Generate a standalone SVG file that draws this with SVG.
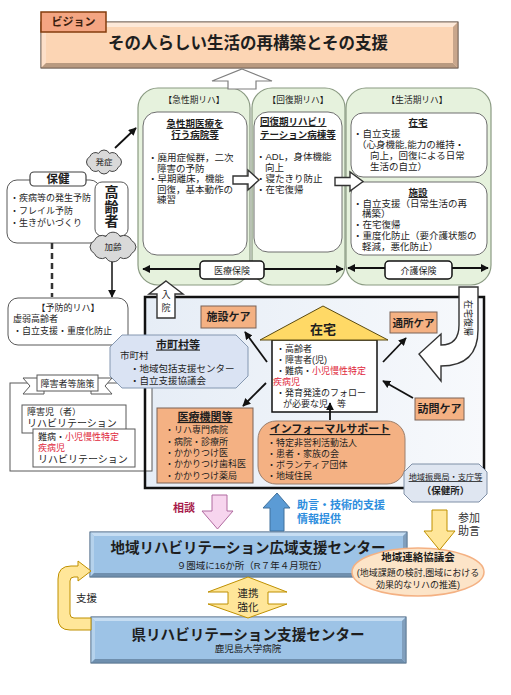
<svg xmlns="http://www.w3.org/2000/svg" width="511" height="695" viewBox="0 0 511 695">
<defs>
<style>
text{font-family:"Liberation Sans","Noto Sans CJK JP",sans-serif;fill:#1e1e1e}
.s8{font-size:8.2px}
.s9{font-size:9px}
.s95{font-size:9.5px}
.s10{font-size:10px}
.s11{font-size:11px}
.b{font-weight:bold}
.u{text-decoration:underline}
.m{text-anchor:middle}
.red{fill:#e0283c}
.wbox{fill:#fff;stroke:#6f6f6f;stroke-width:1}
.green{fill:#e6f2dd;stroke:#8a9a82;stroke-width:1.2}
.orange{fill:#f4b183;stroke:#7a6356;stroke-width:1}
.conn{stroke:#111;stroke-width:1.8;fill:none}
.hollow{fill:#fff;stroke:#333;stroke-width:1.4}
.yel{fill:#ffe699;stroke:#bf9000;stroke-width:1}
.bmain{fill:#9dc3e6;stroke:#5a7691;stroke-width:0.8}
.btop{fill:#c6ddf2}
.bleft{fill:#b5d2ec}
.bbot{fill:#6f8fae}
.bright{fill:#819fbd}
.cloud{fill:#d9d9d9;stroke:#444;stroke-width:1}
.oct{fill:#dae3f3;stroke:#8497b0;stroke-width:1}
</style>
<marker id="ah" viewBox="0 0 10 10" refX="9" refY="5" markerWidth="8" markerHeight="8" markerUnits="userSpaceOnUse" orient="auto-start-reverse">
<path d="M0,0 L10,5 L0,10 z" fill="#111"/>
</marker>
<linearGradient id="gArea" x1="0" y1="0" x2="1" y2="0">
<stop offset="0" stop-color="#e6edf6"/>
<stop offset="1" stop-color="#f7f9fc"/>
</linearGradient>
</defs>
<rect width="511" height="695" fill="#fff"/>

<!-- Vision -->
<g id="vision">
<rect x="41" y="22" width="417" height="46" fill="#fcd5b4" stroke="#6b5a4e" stroke-width="0.8"/>
<polygon points="41,22 458,22 453,27 46,27" fill="#fde9d9"/>
<polygon points="41,22 46,27 46,63 41,68" fill="#fddfc8"/>
<polygon points="41,68 458,68 453,63 46,63" fill="#b99a80"/>
<polygon points="458,22 458,68 453,63 453,27" fill="#c8a68c"/>
<rect x="41" y="22" width="417" height="46" fill="none" stroke="#6b5a4e" stroke-width="0.8"/>
<text x="248" y="49" class="b m" style="font-size:16.5px">その人らしい生活の再構築とその支援</text>
</g>
<g id="vision-label">
<rect x="41" y="12" width="65" height="20" fill="#f4a582" stroke="#843c0c" stroke-width="1.5"/>
<text x="73.5" y="26" class="b m s11" style="fill:#3b1f0f">ビジョン</text>
</g>

<!-- Green phase panels -->
<g id="acute">
<rect x="138" y="88" width="112" height="197" rx="20" class="green"/>
<text x="194" y="103" class="m" style="font-size:8.7px">【急性期リハ】</text>
<rect x="143" y="112" width="104" height="143" rx="14" class="wbox"/>
<text x="195" y="127" class="b u m s95">急性期医療を</text>
<text x="195" y="138" class="b u m s95">行う病院等</text>
<text x="148" y="161" class="s95">・廃用症候群，二次</text>
<text x="157" y="171.5" class="s95">障害の予防</text>
<text x="148" y="182" class="s95">・早期離床，機能</text>
<text x="157" y="192.5" class="s95">回復，基本動作の</text>
<text x="157" y="203" class="s95">練習</text>
</g>
<g id="recovery">
<rect x="252" y="88" width="93" height="197" rx="20" class="green"/>
<text x="298" y="103" class="m" style="font-size:8.7px">【回復期リハ】</text>
<rect x="254" y="112" width="88" height="140" rx="14" class="wbox"/>
<text x="260" y="125" class="b u s95">回復期リハビリ</text>
<text x="260" y="138" class="b u s95">テーション病棟等</text>
<text x="256" y="160" class="s95">・ADL，身体機能</text>
<text x="265" y="171" class="s95">向上</text>
<text x="256" y="182" class="s95">・寝たきり防止</text>
<text x="256" y="192.5" class="s95">・在宅復帰</text>
</g>
<g id="living">
<rect x="346" y="88" width="145" height="197" rx="20" class="green"/>
<text x="417" y="103" class="m" style="font-size:8.7px">【生活期リハ】</text>
<rect x="351" y="113" width="136" height="64" rx="12" class="wbox"/>
<text x="418" y="126" class="b u m s95">在宅</text>
<text x="353" y="137" class="s95">・自立支援</text>
<text x="357" y="148" class="s95">（心身機能,能力の維持・</text>
<text x="370" y="159" class="s95">向上，回復による日常</text>
<text x="370" y="170" class="s95">生活の自立）</text>
<rect x="351" y="182" width="136" height="73" rx="12" class="wbox"/>
<text x="418" y="196" class="b u m s95">施設</text>
<text x="353" y="206.5" class="s95">・自立支援（日常生活の再</text>
<text x="362" y="217" class="s95">構築）</text>
<text x="353" y="228" class="s95">・在宅復帰</text>
<text x="353" y="239" class="s95">・重度化防止（要介護状態の</text>
<text x="362" y="250" class="s95">軽減，悪化防止）</text>
</g>

<!-- Left side health -->
<g id="hoken">
<rect x="7" y="180" width="93" height="63" rx="10" class="wbox" style="stroke:#595959"/>
<rect x="30" y="172" width="56" height="14" rx="4" fill="#fff" stroke="#404040" stroke-width="1.2"/>
<text x="58" y="183" class="b m" style="font-size:11.5px">保健</text>
<text x="10" y="201" class="s9">・疾病等の発生予防</text>
<text x="10" y="213.5" class="s9">・フレイル予防</text>
<text x="10" y="225.5" class="s9">・生きがいづくり</text>
</g>
<g id="elderly">
<rect x="95" y="182" width="33" height="54" rx="7" class="wbox" style="stroke:#595959"/>
<text x="111.5" y="197" class="b m" style="font-size:14px">高</text>
<text x="111.5" y="211.5" class="b m" style="font-size:14px">齢</text>
<text x="111.5" y="226" class="b m" style="font-size:14px">者</text>
</g>
<g id="cloud-onset">
<path class="cloud" d="M121.5,162 A6,6 0 0 1 118.2,167.3 A6,6 0 0 1 109.4,170.6 A6,6 0 0 1 98.6,170.6 A6,6 0 0 1 89.8,167.3 A6,6 0 0 1 86.5,162 A6,6 0 0 1 89.8,156.7 A6,6 0 0 1 98.6,153.4 A6,6 0 0 1 109.4,153.4 A6,6 0 0 1 118.2,156.7 A6,6 0 0 1 121.5,162 Z"/>
<text x="104" y="165" class="m" style="font-size:8.5px">発症</text>
</g>
<g id="cloud-aging">
<path class="cloud" d="M136,247 A8,8 0 0 1 131.6,253.5 A8,8 0 0 1 120.1,257.5 A8,8 0 0 1 105.9,257.5 A8,8 0 0 1 94.4,253.5 A8,8 0 0 1 90,247 A8,8 0 0 1 94.4,240.5 A8,8 0 0 1 105.9,236.5 A8,8 0 0 1 120.1,236.5 A8,8 0 0 1 131.6,240.5 A8,8 0 0 1 136,247 Z"/>
<text x="113" y="250" class="m" style="font-size:8.5px">加齢</text>
</g>
<g id="preventive">
<rect x="8" y="298" width="120" height="47" rx="10" class="wbox" style="stroke:#595959"/>
<text x="68" y="311" class="m s9">【予防的リハ】</text>
<text x="13" y="321.5" class="s9">虚弱高齢者</text>
<text x="13" y="333.5" class="s9">・自立支援・重度化防止</text>
</g>

<!-- Local area box -->
<g id="area-local">
<rect x="145" y="297" width="339" height="191" fill="url(#gArea)"/>
</g>

<g id="disability">
<rect x="10" y="383" width="142" height="88" fill="#fff" stroke="#595959" stroke-width="1"/>
<polygon points="23,378 44,378 44,394 23,394 30,386" fill="#fff" stroke="#595959" stroke-width="1"/>
<polygon points="112,378 91,378 91,394 112,394 105,386" fill="#fff" stroke="#595959" stroke-width="1"/>
<rect x="37" y="375" width="61" height="16" fill="#fff" stroke="#595959" stroke-width="1"/>
<text x="67.5" y="387" class="m s9">障害者等施策</text>
<rect x="22" y="405" width="104" height="28" fill="#fff" stroke="#595959" stroke-width="1"/>
<text x="27" y="414.5" class="s9">障害児（者）</text>
<text x="27" y="427" class="s10">リハビリテーション</text>
<rect x="33" y="429" width="102" height="38" fill="#fff" stroke="#595959" stroke-width="1"/>
<text x="38" y="440" class="s9">難病・<tspan class="red">小児慢性特定</tspan></text>
<text x="38" y="450.5" class="s9 red">疾病児</text>
<text x="38" y="462.5" class="s10">リハビリテーション</text>
</g>

<g id="area-local-border">
<rect x="145" y="297" width="339" height="191" fill="none" stroke="#111" stroke-width="2.5"/>
</g>

<g id="nyuin">
<polygon points="166,281 183,294 175,294 175,318 157,318 157,294 149,294" class="hollow"/>
<text x="166" y="298" class="m s9">入</text>
<text x="166" y="311" class="m s9">院</text>
</g>

<g id="shisetsu-care">
<rect x="201" y="306" width="55" height="22" class="orange"/>
<text x="228.5" y="321" class="b m s11">施設ケア</text>
</g>
<g id="tsusho-care">
<rect x="390" y="312" width="47" height="21" class="orange"/>
<text x="413.5" y="326.5" class="b m" style="font-size:10.5px">通所ケア</text>
</g>
<g id="homon-care">
<rect x="415" y="398" width="49" height="22" class="orange"/>
<text x="439.5" y="413" class="b m s11">訪問ケア</text>
</g>

<g id="home">
<rect x="272" y="340" width="105" height="72" fill="#fff" stroke="#111" stroke-width="1.5"/>
<polygon points="323,306 388,340 260,340" fill="#ffd966" stroke="#5a4a10" stroke-width="1"/>
<text x="323" y="334" class="b m" style="font-size:13px">在宅</text>
<text x="276" y="352" class="s9">・高齢者</text>
<text x="276" y="363" class="s9">・障害者(児)</text>
<text x="276" y="374" class="s9">・難病・<tspan class="red">小児慢性特定</tspan></text>
<text x="273" y="385" class="s9 red">疾病児</text>
<text x="276" y="396" class="s9">・発育発達のフォロー</text>
<text x="283" y="407" class="s9">が必要な児　等</text>
</g>

<g id="municipality">
<polygon points="122,335 236,335 248,347 248,376 236,388 122,388 110,376 110,347" class="oct"/>
<text x="178" y="348.5" class="b u m s11">市町村等</text>
<text x="120" y="359" class="s95">市町村</text>
<text x="130" y="372" class="s95">・地域包括支援センター</text>
<text x="130" y="383.5" class="s95">・自立支援協議会</text>
</g>

<g id="medical">
<rect x="157" y="408" width="96" height="75" class="orange"/>
<text x="205" y="421" class="b u m s11">医療機関等</text>
<text x="165" y="433" class="s9">・リハ専門病院</text>
<text x="165" y="444.5" class="s9">・病院・診療所</text>
<text x="165" y="456" class="s9">・かかりつけ医</text>
<text x="165" y="467" class="s9">・かかりつけ歯科医</text>
<text x="165" y="478.5" class="s9">・かかりつけ薬局</text>
</g>

<g id="informal">
<rect x="258" y="421" width="147" height="63" rx="18" class="orange" style="stroke:#9c7f6c"/>
<text x="330" y="433" class="b u m s11">インフォーマルサポート</text>
<text x="267" y="445.5" class="s9">・特定非営利活動法人</text>
<text x="267" y="456.5" class="s9">・患者・家族の会</text>
<text x="267" y="467.5" class="s9">・ボランティア団体</text>
<text x="267" y="478.5" class="s9">・地域住民</text>
</g>

<g id="zaitaku-fukki">
<path d="M459,287 L478,287 L478,330 Q478,366 441,366 L441,381 L419,354 L441,334 L441,345 Q459,345 459,325 Z" class="hollow"/>
<text x="468" y="321" class="m s9" transform="rotate(90 468 318)">在宅復帰</text>
</g>

<g id="regional-office">
<polygon points="412,464 479,464 487,472 487,494 479,502 412,502 404,494 404,472" fill="#dfe6f1" stroke="#7f8fa6" stroke-width="1"/>
<text x="445.5" y="480" class="u m" style="font-size:8.2px">地域振興局・支庁等</text>
<text x="445.5" y="494" class="b m s95">（保健所）</text>
</g>

<g id="wide-center">
<rect x="90" y="532" width="317" height="45" class="bmain"/>
<polygon points="90,532 407,532 403,536 94,536" class="btop"/>
<polygon points="90,532 94,536 94,573 90,577" class="bleft"/>
<polygon points="90,577 407,577 403,573 94,573" class="bbot"/>
<polygon points="407,532 407,577 403,573 403,536" class="bright"/>
<rect x="90" y="532" width="317" height="45" fill="none" stroke="#5a7691" stroke-width="0.8"/>
<text x="248" y="553" class="b m" style="font-size:14.5px">地域リハビリテーション広域支援センター</text>
<text x="252" y="569" class="m s95">９圏域に16か所（R７年４月現在）</text>
</g>

<g id="liaison">
<ellipse cx="418" cy="572" rx="66" ry="24" fill="#fce4c8" stroke="#f4b183" stroke-width="1.5"/>
<text x="418" y="561" class="b m" style="font-size:10.5px">地域連絡協議会</text>
<text x="418" y="576" class="m s9">(地域課題の検討,圏域における</text>
<text x="418" y="588" class="m s9">効果的なリハの推進)</text>
</g>

<g id="pref-center">
<rect x="91" y="617" width="315" height="46" class="bmain"/>
<polygon points="91,617 406,617 402,621 95,621" class="btop"/>
<polygon points="91,617 95,621 95,659 91,663" class="bleft"/>
<polygon points="91,663 406,663 402,659 95,659" class="bbot"/>
<polygon points="406,617 406,663 402,659 402,621" class="bright"/>
<rect x="91" y="617" width="315" height="46" fill="none" stroke="#5a7691" stroke-width="0.8"/>
<text x="248" y="639.5" class="b m" style="font-size:14.6px">県リハビリテーション支援センター</text>
<text x="248" y="652" class="m s95">鹿児島大学病院</text>
</g>

<!-- Connectors -->
<g id="connectors">
<polygon points="242,69 272,81 256,81 256,89 228,89 228,81 212,81" fill="#fff" stroke="#7f7f7f" stroke-width="1.2"/>
<polygon points="233,176 248,176 248,170 259,180 248,190 248,184 233,184" class="hollow"/>
<polygon points="335,177.5 350,177.5 350,172 363,181.5 350,191 350,185.5 335,185.5" class="hollow"/>
<line x1="115" y1="148" x2="136" y2="128" class="conn" marker-end="url(#ah)"/>
<line x1="52" y1="243" x2="52" y2="297" stroke="#333" stroke-width="2.5" stroke-dasharray="6,4"/>
<line x1="112" y1="262" x2="112" y2="297" stroke="#111" stroke-width="1.5" marker-end="url(#ah)"/>
<line x1="143" y1="269" x2="343" y2="269" class="conn" marker-start="url(#ah)" marker-end="url(#ah)"/>
<rect x="200" y="261" width="64" height="18" rx="4" fill="#fff" stroke="#111" stroke-width="1.5"/>
<text x="232" y="273.5" class="m s9">医療保険</text>
<line x1="348" y1="268" x2="488" y2="268" class="conn" marker-start="url(#ah)" marker-end="url(#ah)"/>
<rect x="385" y="261" width="67" height="18" rx="4" fill="#fff" stroke="#111" stroke-width="1.5"/>
<text x="418.5" y="273.5" class="m s9">介護保険</text>
<line x1="267" y1="362" x2="245" y2="332" class="conn" marker-end="url(#ah)"/>
<line x1="266" y1="383" x2="243" y2="406" class="conn" marker-end="url(#ah)"/>
<line x1="383" y1="362" x2="406" y2="338" class="conn" marker-end="url(#ah)"/>
<line x1="413" y1="398" x2="383" y2="381" class="conn" marker-end="url(#ah)"/>
<line x1="330" y1="420" x2="330" y2="403" class="conn" marker-end="url(#ah)"/>
<polygon points="212,495 227,495 227,511 233,511 217.5,529 202,511 212,511" fill="#f7d5ee" stroke="#b06aa0" stroke-width="1"/>
<text x="184" y="512" class="b m s11" style="fill:#a81c4c">相談</text>
<polygon points="277,493 290,508 284,508 284,531 270,531 270,508 263,508" fill="#5b9bd5" stroke="#41719c" stroke-width="1"/>
<text x="297" y="509" class="b s11" style="fill:#2e8ede">助言・技術的支援</text>
<text x="297" y="523" class="b s11" style="fill:#2e8ede">情報提供</text>
<polygon points="432,510 447,510 447,531 455,531 439.5,550 424,531 432,531" class="yel"/>
<text x="469" y="522" class="m s11" style="fill:#333">参加</text>
<text x="469" y="535" class="m s11" style="fill:#333">助言</text>
<polygon points="248,577 287,592 268,592 268,604 287,604 248,618 208,604 228,604 228,592 208,592" class="yel"/>
<text x="248" y="597" class="m" style="font-size:10.5px">連携</text>
<text x="248" y="610.5" class="m" style="font-size:10.5px">強化</text>
<path d="M91,630 L70,630 Q58,630 58,618 L58,579 Q58,566 71,566 L78,566 L78,561 L91,571 L78,581 L78,577 L74,577 Q70,577 70,581 L70,614 Q70,618 74,618 L91,618 Z" class="yel"/>
<text x="86.5" y="602" class="m" style="font-size:10.5px">支援</text>
</g>
</svg>
